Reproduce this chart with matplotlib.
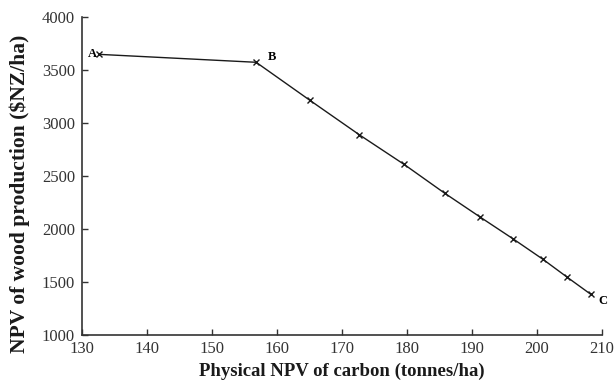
import matplotlib
matplotlib.use("Agg")
import matplotlib.pyplot as plt

# Datos
carbono = [132.6, 156.8, 165.1, 172.7, 179.6, 185.8, 191.3, 196.4, 200.9, 204.7, 208.3]
madera = [3650, 3575, 3215, 2890, 2610, 2340, 2113, 1906, 1717, 1545, 1385]
etiquetas = {"A": 0, "B": 1, "C": 10}

plt.rcParams['font.family'] = ['Liberation Serif', 'DejaVu Serif']

fig = plt.figure(figsize=(6.14, 3.84), dpi=100)
ax = fig.add_axes([0.1336, 0.1276, 0.8464, 0.8274])

ax.plot(carbono, madera, color='#1a1a1a', lw=1.0, marker='x', ms=5, mew=1.0)

ax.set_xlim(130, 210)
ax.set_ylim(1000, 4000)
ax.set_xticks(range(130, 211, 10))
ax.set_yticks(range(1000, 4001, 500))
ax.tick_params(direction='in', length=4, width=1, labelsize=12, colors='#333333')
ax.tick_params(axis='x', pad=4.5)
ax.tick_params(axis='y', pad=5)
for s in ['top', 'right']:
    ax.spines[s].set_visible(False)
for s in ['left', 'bottom']:
    ax.spines[s].set_linewidth(1.2)
    ax.spines[s].set_color('#333333')

ax.set_xlabel('Physical NPV of carbon (tonnes/ha)', fontsize=13.5, fontweight='bold',
              color='#1a1a1a')
ax.set_ylabel('NPV of wood production ($NZ/ha)', fontsize=15.5, fontweight='bold',
              color='#1a1a1a')
ax.xaxis.label.set_va('center')
ax.yaxis.label.set_va('center')
ax.xaxis.set_label_coords(0.5, -0.115)
ax.yaxis.set_label_coords(-0.119, 0.443)

# Etiquetas de puntos
ax.annotate('A', (carbono[etiquetas["A"]], madera[etiquetas["A"]]), xytext=(-5, 0),
            textcoords='offset points', fontsize=9, fontweight='bold', ha='center', va='center')
ax.annotate('B', (carbono[etiquetas["B"]], madera[etiquetas["B"]]), xytext=(11.5, 3.5),
            textcoords='offset points', fontsize=9, fontweight='bold', ha='center', va='center')
ax.annotate('C', (carbono[etiquetas["C"]], madera[etiquetas["C"]]), xytext=(8.5, -5),
            textcoords='offset points', fontsize=9, fontweight='bold', ha='center', va='center')

fig.savefig('out.png', dpi=100)
